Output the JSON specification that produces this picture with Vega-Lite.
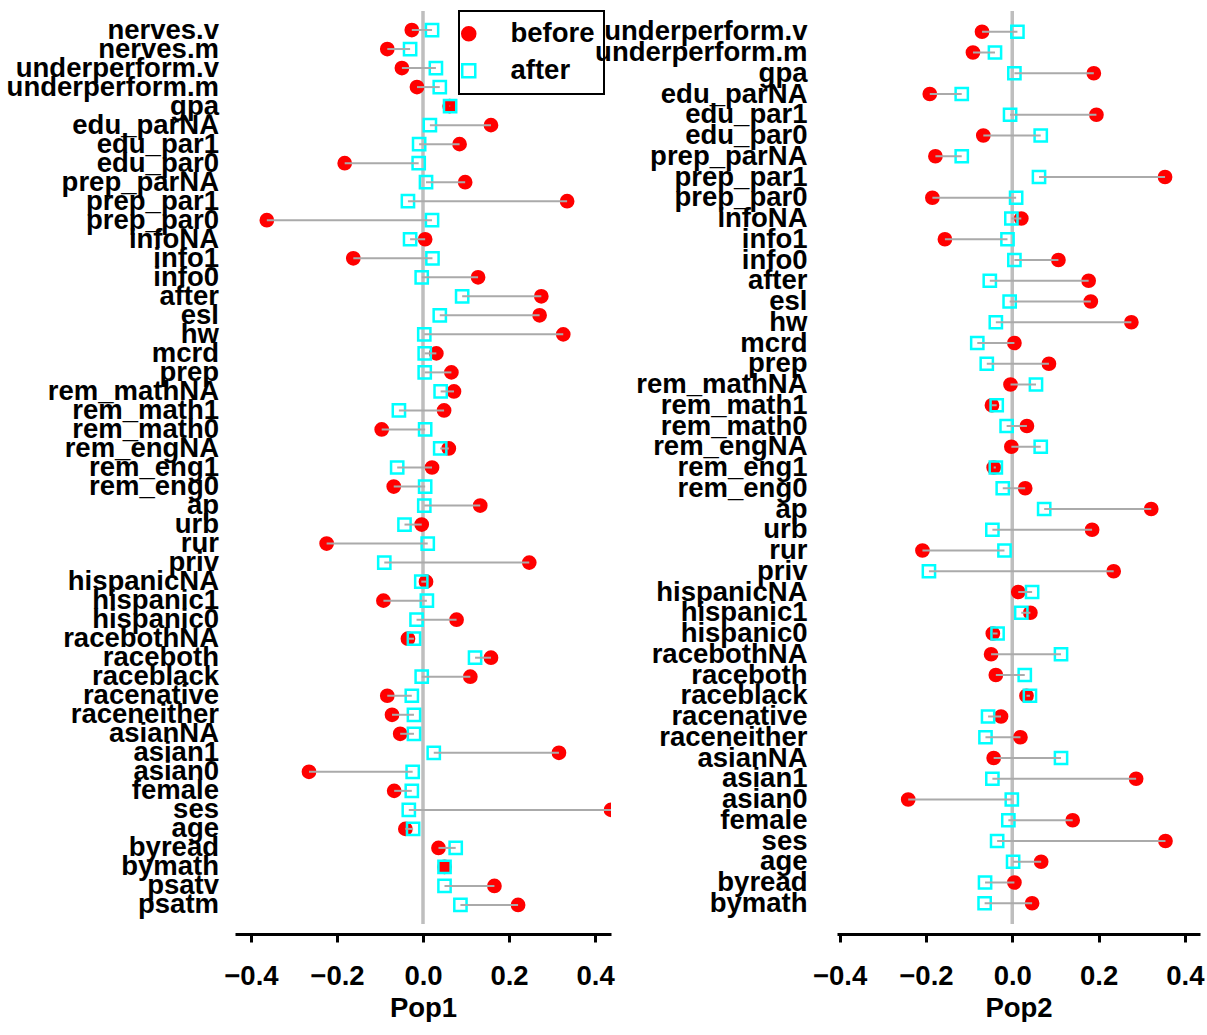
{
  "$schema": "https://vega.github.io/schema/vega-lite/v6.json",
  "background": "white",
  "padding": {"left": 6, "top": 9, "right": 0, "bottom": 0},
  "datasets": {
    "d": [
      {"pop": "Pop1", "var": "nerves.v", "before": -0.026, "after": 0.021},
      {"pop": "Pop1", "var": "nerves.m", "before": -0.083, "after": -0.030},
      {"pop": "Pop1", "var": "underperform.v", "before": -0.049, "after": 0.030},
      {"pop": "Pop1", "var": "underperform.m", "before": -0.014, "after": 0.039},
      {"pop": "Pop1", "var": "gpa", "before": 0.062, "after": 0.063},
      {"pop": "Pop1", "var": "edu_parNA", "before": 0.158, "after": 0.016},
      {"pop": "Pop1", "var": "edu_par1", "before": 0.085, "after": -0.009},
      {"pop": "Pop1", "var": "edu_par0", "before": -0.182, "after": -0.010},
      {"pop": "Pop1", "var": "prep_parNA", "before": 0.098, "after": 0.007},
      {"pop": "Pop1", "var": "prep_par1", "before": 0.335, "after": -0.035},
      {"pop": "Pop1", "var": "prep_par0", "before": -0.363, "after": 0.021},
      {"pop": "Pop1", "var": "infoNA", "before": 0.005, "after": -0.030},
      {"pop": "Pop1", "var": "info1", "before": -0.162, "after": 0.022},
      {"pop": "Pop1", "var": "info0", "before": 0.128, "after": -0.003},
      {"pop": "Pop1", "var": "after", "before": 0.275, "after": 0.091},
      {"pop": "Pop1", "var": "esl", "before": 0.271, "after": 0.039},
      {"pop": "Pop1", "var": "hw", "before": 0.326, "after": 0.003},
      {"pop": "Pop1", "var": "mcrd", "before": 0.031, "after": 0.004},
      {"pop": "Pop1", "var": "prep", "before": 0.066, "after": 0.004},
      {"pop": "Pop1", "var": "rem_mathNA", "before": 0.072, "after": 0.041},
      {"pop": "Pop1", "var": "rem_math1", "before": 0.049, "after": -0.056},
      {"pop": "Pop1", "var": "rem_math0", "before": -0.096, "after": 0.005},
      {"pop": "Pop1", "var": "rem_engNA", "before": 0.060, "after": 0.040},
      {"pop": "Pop1", "var": "rem_eng1", "before": 0.021, "after": -0.060},
      {"pop": "Pop1", "var": "rem_eng0", "before": -0.068, "after": 0.005},
      {"pop": "Pop1", "var": "ap", "before": 0.133, "after": 0.003},
      {"pop": "Pop1", "var": "urb", "before": -0.003, "after": -0.043},
      {"pop": "Pop1", "var": "rur", "before": -0.224, "after": 0.011},
      {"pop": "Pop1", "var": "priv", "before": 0.247, "after": -0.090},
      {"pop": "Pop1", "var": "hispanicNA", "before": 0.007, "after": -0.004},
      {"pop": "Pop1", "var": "hispanic1", "before": -0.092, "after": 0.009},
      {"pop": "Pop1", "var": "hispanic0", "before": 0.078, "after": -0.015},
      {"pop": "Pop1", "var": "racebothNA", "before": -0.035, "after": -0.021},
      {"pop": "Pop1", "var": "raceboth", "before": 0.158, "after": 0.121},
      {"pop": "Pop1", "var": "raceblack", "before": 0.110, "after": -0.003},
      {"pop": "Pop1", "var": "racenative", "before": -0.083, "after": -0.026},
      {"pop": "Pop1", "var": "raceneither", "before": -0.072, "after": -0.021},
      {"pop": "Pop1", "var": "asianNA", "before": -0.053, "after": -0.021},
      {"pop": "Pop1", "var": "asian1", "before": 0.316, "after": 0.025},
      {"pop": "Pop1", "var": "asian0", "before": -0.265, "after": -0.024},
      {"pop": "Pop1", "var": "female", "before": -0.067, "after": -0.026},
      {"pop": "Pop1", "var": "ses", "before": 0.437, "after": -0.033},
      {"pop": "Pop1", "var": "age", "before": -0.041, "after": -0.023},
      {"pop": "Pop1", "var": "byread", "before": 0.036, "after": 0.076},
      {"pop": "Pop1", "var": "bymath", "before": 0.050, "after": 0.050},
      {"pop": "Pop1", "var": "psatv", "before": 0.166, "after": 0.050},
      {"pop": "Pop1", "var": "psatm", "before": 0.221, "after": 0.087},
      {"pop": "Pop2", "var": "underperform.v", "before": -0.070, "after": 0.012},
      {"pop": "Pop2", "var": "underperform.m", "before": -0.091, "after": -0.040},
      {"pop": "Pop2", "var": "gpa", "before": 0.189, "after": 0.005},
      {"pop": "Pop2", "var": "edu_parNA", "before": -0.191, "after": -0.117},
      {"pop": "Pop2", "var": "edu_par1", "before": 0.195, "after": -0.005},
      {"pop": "Pop2", "var": "edu_par0", "before": -0.067, "after": 0.066},
      {"pop": "Pop2", "var": "prep_parNA", "before": -0.178, "after": -0.117},
      {"pop": "Pop2", "var": "prep_par1", "before": 0.354, "after": 0.062},
      {"pop": "Pop2", "var": "prep_par0", "before": -0.185, "after": 0.009},
      {"pop": "Pop2", "var": "infoNA", "before": 0.021, "after": -0.002},
      {"pop": "Pop2", "var": "info1", "before": -0.156, "after": -0.011},
      {"pop": "Pop2", "var": "info0", "before": 0.107, "after": 0.005},
      {"pop": "Pop2", "var": "after", "before": 0.177, "after": -0.052},
      {"pop": "Pop2", "var": "esl", "before": 0.182, "after": -0.006},
      {"pop": "Pop2", "var": "hw", "before": 0.276, "after": -0.038},
      {"pop": "Pop2", "var": "mcrd", "before": 0.005, "after": -0.081},
      {"pop": "Pop2", "var": "prep", "before": 0.085, "after": -0.059},
      {"pop": "Pop2", "var": "rem_mathNA", "before": -0.004, "after": 0.055},
      {"pop": "Pop2", "var": "rem_math1", "before": -0.047, "after": -0.036},
      {"pop": "Pop2", "var": "rem_math0", "before": 0.034, "after": -0.013},
      {"pop": "Pop2", "var": "rem_engNA", "before": -0.002, "after": 0.066},
      {"pop": "Pop2", "var": "rem_eng1", "before": -0.043, "after": -0.038},
      {"pop": "Pop2", "var": "rem_eng0", "before": 0.030, "after": -0.022},
      {"pop": "Pop2", "var": "ap", "before": 0.322, "after": 0.074},
      {"pop": "Pop2", "var": "urb", "before": 0.185, "after": -0.046},
      {"pop": "Pop2", "var": "rur", "before": -0.208, "after": -0.018},
      {"pop": "Pop2", "var": "priv", "before": 0.235, "after": -0.193},
      {"pop": "Pop2", "var": "hispanicNA", "before": 0.014, "after": 0.046},
      {"pop": "Pop2", "var": "hispanic1", "before": 0.042, "after": 0.021},
      {"pop": "Pop2", "var": "hispanic0", "before": -0.045, "after": -0.034},
      {"pop": "Pop2", "var": "racebothNA", "before": -0.049, "after": 0.113},
      {"pop": "Pop2", "var": "raceboth", "before": -0.038, "after": 0.029},
      {"pop": "Pop2", "var": "raceblack", "before": 0.033, "after": 0.041},
      {"pop": "Pop2", "var": "racenative", "before": -0.026, "after": -0.056},
      {"pop": "Pop2", "var": "raceneither", "before": 0.019, "after": -0.062},
      {"pop": "Pop2", "var": "asianNA", "before": -0.043, "after": 0.113},
      {"pop": "Pop2", "var": "asian1", "before": 0.287, "after": -0.046},
      {"pop": "Pop2", "var": "asian0", "before": -0.241, "after": -0.001},
      {"pop": "Pop2", "var": "female", "before": 0.140, "after": -0.009},
      {"pop": "Pop2", "var": "ses", "before": 0.355, "after": -0.035},
      {"pop": "Pop2", "var": "age", "before": 0.067, "after": 0.002},
      {"pop": "Pop2", "var": "byread", "before": 0.005, "after": -0.063},
      {"pop": "Pop2", "var": "bymath", "before": 0.046, "after": -0.064}
    ]
  },
  "data": {"name": "d"},
  "spacing": 226,
  "bounds": "flush",
  "hconcat": [
    {
      "width": 376,
      "height": 913,
      "transform": [{"filter": "datum.pop === 'Pop1'"}],
      "layer": [
        {
          "transform": [{"aggregate": [{"op": "count", "as": "n"}]}],
          "mark": {"type": "rule", "color": "#bebebe", "strokeWidth": 3.5},
          "encoding": {"x": {"datum": 0, "type": "quantitative", "title": "Pop1"}}
        },
        {
          "transform": [{"fold": ["before", "after"], "as": ["key", "value"]}],
          "mark": {"type": "point", "size": 150, "strokeWidth": 2.5, "opacity": 1, "clip": true},
          "encoding": {
            "x": {"field": "value", "type": "quantitative", "title": "Pop1",
              "scale": {"domain": [-0.437, 0.437], "nice": false, "zero": false},
              "axis": {"values": [-0.4, -0.2, 0, 0.2, 0.4], "format": ".1f", "offset": 10, "domainColor": "black", "domainWidth": 3, "tickColor": "black", "tickWidth": 3, "tickSize": 8, "labelPadding": 20, "titlePadding": 5, "labelFlush": false}},
            "y": {"field": "var", "type": "nominal", "sort": null, "title": null,
              "scale": {"type": "point", "padding": 1.18},
              "axis": {"domain": false, "ticks": false, "tickSize": 0, "labelPadding": 16.5, "labelLimit": 600}},
            "shape": {"field": "key", "type": "nominal", "scale": {"domain": ["before", "after"], "range": ["circle", "square"]}, "legend": {"title": null, "orient": "none", "legendX": 224, "legendY": 0}},
            "fill": {"field": "key", "type": "nominal", "scale": {"domain": ["before", "after"], "range": ["#ff0000", "transparent"]}, "legend": {"title": null, "orient": "none", "legendX": 224, "legendY": 0}},
            "stroke": {"field": "key", "type": "nominal", "scale": {"domain": ["before", "after"], "range": ["#ff0000", "#00ffff"]}, "legend": {"title": null, "orient": "none", "legendX": 224, "legendY": 0}}
          }
        },
        {
          "mark": {"type": "rule", "color": "#aaaaaa", "strokeWidth": 2, "clip": true},
          "encoding": {
            "x": {"field": "before", "type": "quantitative", "title": "Pop1"},
            "x2": {"field": "after"},
            "y": {"field": "var", "type": "nominal", "sort": null, "title": null}
          }
        }
      ]
    },
    {
      "width": 363,
      "height": 913,
      "transform": [{"filter": "datum.pop === 'Pop2'"}],
      "layer": [
        {
          "transform": [{"aggregate": [{"op": "count", "as": "n"}]}],
          "mark": {"type": "rule", "color": "#bebebe", "strokeWidth": 3.5},
          "encoding": {"x": {"datum": 0, "type": "quantitative", "title": "Pop2"}}
        },
        {
          "transform": [{"fold": ["before", "after"], "as": ["key", "value"]}],
          "mark": {"type": "point", "size": 150, "strokeWidth": 2.5, "opacity": 1, "clip": true},
          "encoding": {
            "x": {"field": "value", "type": "quantitative", "title": "Pop2",
              "scale": {"domain": [-0.406, 0.435], "nice": false, "zero": false},
              "axis": {"values": [-0.4, -0.2, 0, 0.2, 0.4], "format": ".1f", "offset": 10, "domainColor": "black", "domainWidth": 3, "tickColor": "black", "tickWidth": 3, "tickSize": 8, "labelPadding": 20, "titlePadding": 5, "labelFlush": false}},
            "y": {"field": "var", "type": "nominal", "sort": null, "title": null,
              "scale": {"type": "point", "padding": 1.08},
              "axis": {"domain": false, "ticks": false, "tickSize": 0, "labelPadding": 30, "labelLimit": 600}},
            "shape": {"field": "key", "type": "nominal", "scale": {"domain": ["before", "after"], "range": ["circle", "square"]}, "legend": {"title": null, "orient": "none", "legendX": 224, "legendY": 0}},
            "fill": {"field": "key", "type": "nominal", "scale": {"domain": ["before", "after"], "range": ["#ff0000", "transparent"]}, "legend": {"title": null, "orient": "none", "legendX": 224, "legendY": 0}},
            "stroke": {"field": "key", "type": "nominal", "scale": {"domain": ["before", "after"], "range": ["#ff0000", "#00ffff"]}, "legend": {"title": null, "orient": "none", "legendX": 224, "legendY": 0}}
          }
        },
        {
          "mark": {"type": "rule", "color": "#aaaaaa", "strokeWidth": 2, "clip": true},
          "encoding": {
            "x": {"field": "before", "type": "quantitative", "title": "Pop2"},
            "x2": {"field": "after"},
            "y": {"field": "var", "type": "nominal", "sort": null, "title": null}
          }
        }
      ]
    }
  ],
  "config": {
    "font": "Liberation Sans",
    "view": {"stroke": null},
    "axis": {"grid": false, "labelFont": "Liberation Sans", "labelFontSize": 27.5, "labelFontWeight": "bold", "labelColor": "black", "titleFont": "Liberation Sans", "titleFontSize": 27.5, "titleFontWeight": "bold", "titleColor": "black"},
    "legend": {"labelFont": "Liberation Sans", "labelFontSize": 27.5, "labelFontWeight": "bold", "labelColor": "black", "strokeColor": "black", "strokeWidth": 2, "padding": 9, "rowPadding": 8, "labelOffset": 28, "symbolSize": 170, "symbolStrokeWidth": 2.5, "symbolOffset": -13}
  }
}
